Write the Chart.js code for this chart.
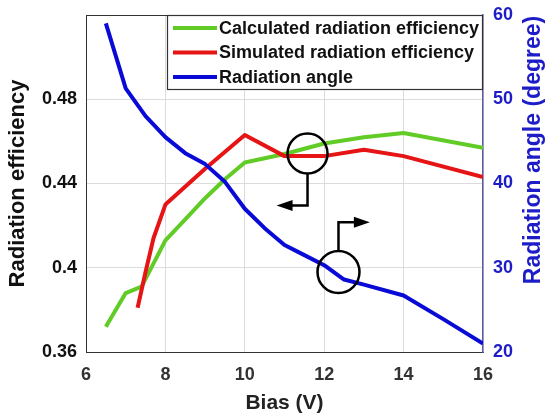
<!DOCTYPE html>
<html>
<head>
<meta charset="utf-8">
<script src="https://cdn.jsdelivr.net/npm/chart.js@4.4.1/dist/chart.umd.min.js"></script>
<style>
  html, body { margin: 0; padding: 0; background: #fff; }
  #wrap { width: 552px; height: 415px; }
</style>
</head>
<body>
<div id="wrap"><canvas id="chart" width="552" height="415"></canvas></div>
<script>
// Calculated radiation efficiency (left axis)
const calcBias = [6.5, 7, 7.4, 8, 8.5, 9, 9.5, 10, 11, 12, 13, 14, 16];
const calcEff = [0.372, 0.388, 0.391, 0.413, 0.423, 0.433, 0.442, 0.450, 0.454, 0.459, 0.462, 0.464, 0.457];

// Simulated radiation efficiency (left axis)
const simBias = [7.3, 7.5, 7.7, 8, 9, 10, 11, 12, 13, 14, 16];
const simEff = [0.381, 0.398, 0.414, 0.430, 0.447, 0.463, 0.453, 0.453, 0.456, 0.453, 0.443];

// Radiation angle (right axis, degree)
const angleBias = [6.5, 7, 7.5, 8, 8.5, 9, 9.5, 10, 10.5, 11, 11.5, 12, 12.5, 13, 14, 15, 16];
const angleDeg = [59.0, 51.3, 48.0, 45.5, 43.6, 42.3, 40.2, 37.0, 34.7, 32.7, 31.5, 30.3, 28.6, 28.0, 26.7, 23.9, 21.0];

const xTicks = [6, 8, 10, 12, 14, 16];
const effTicks = [0.36, 0.40, 0.44, 0.48];
const angleTicks = [20, 30, 40, 50, 60];

const colors = {
  calc: '#62cc26',
  sim: '#e61414',
  angle: '#0a0ad6',
  axisBlue: '#1c1cc8'
};

const FONT = 'Liberation Sans, Arial, sans-serif';

const pts = (xs, ys) => xs.map((x, i) => ({ x: x, y: ys[i] }));

// legend box, callouts, top frame, right axis title (reads bottom-up)
const overlay = {
  id: 'overlay',
  afterDraw(chart) {
    const { ctx, chartArea: a, scales } = chart;
    const x = scales.x, y = scales.y, y2 = scales.y2;
    ctx.save();

    // top frame
    ctx.strokeStyle = '#333';
    ctx.lineWidth = 1;
    ctx.beginPath();
    ctx.moveTo(a.left, a.top + 0.5);
    ctx.lineTo(a.right, a.top + 0.5);
    ctx.stroke();

    // callout 1: points to left axis
    ctx.strokeStyle = '#000';
    ctx.fillStyle = '#000';
    ctx.lineWidth = 2.5;
    let cx = x.getPixelForValue(11.58), cy = y.getPixelForValue(0.4542);
    ctx.beginPath();
    ctx.arc(cx, cy, 20, 0, Math.PI * 2);
    ctx.stroke();
    let ey = y.getPixelForValue(0.4296), ex = x.getPixelForValue(10.8);
    ctx.beginPath();
    ctx.moveTo(cx, cy + 20);
    ctx.lineTo(cx, ey);
    ctx.lineTo(ex + 14, ey);
    ctx.stroke();
    ctx.beginPath();
    ctx.moveTo(ex, ey);
    ctx.lineTo(ex + 16, ey - 5.5);
    ctx.lineTo(ex + 16, ey + 5.5);
    ctx.closePath();
    ctx.fill();

    // callout 2: points to right axis
    cx = x.getPixelForValue(12.36); cy = y2.getPixelForValue(29.5);
    ctx.beginPath();
    ctx.arc(cx, cy, 21, 0, Math.PI * 2);
    ctx.stroke();
    ey = y2.getPixelForValue(35.4); ex = x.getPixelForValue(13.15);
    ctx.beginPath();
    ctx.moveTo(cx, cy - 21);
    ctx.lineTo(cx, ey);
    ctx.lineTo(ex - 14, ey);
    ctx.stroke();
    ctx.beginPath();
    ctx.moveTo(ex, ey);
    ctx.lineTo(ex - 16, ey - 5.5);
    ctx.lineTo(ex - 16, ey + 5.5);
    ctx.closePath();
    ctx.fill();

    // legend
    const lw = 316, lh = 75;
    const lx = a.right - lw, ly = a.top;
    ctx.fillStyle = '#fff';
    ctx.fillRect(lx, ly, lw, lh);
    ctx.strokeStyle = '#333';
    ctx.lineWidth = 1.2;
    ctx.strokeRect(lx + 0.5, ly + 0.5, lw - 1, lh - 1);
    ctx.font = 'bold 18px ' + FONT;
    ctx.textBaseline = 'middle';
    ctx.textAlign = 'left';
    [0, 1, 2].forEach(i => {
      const ds = chart.data.datasets[i];
      const ry = ly + 13 + i * 24.5;
      ctx.strokeStyle = ds.borderColor;
      ctx.lineWidth = 4;
      ctx.beginPath();
      ctx.moveTo(lx + 6, ry);
      ctx.lineTo(lx + 50, ry);
      ctx.stroke();
      ctx.fillStyle = '#111';
      ctx.fillText(ds.label, lx + 52, ry + 1);
    });

    // right axis title
    ctx.translate(534, 150);
    ctx.rotate(-Math.PI / 2);
    ctx.font = 'bold 23px ' + FONT;
    ctx.textAlign = 'center';
    ctx.fillStyle = colors.axisBlue;
    ctx.fillText('Radiation angle (degree)', 0, 0);
    ctx.restore();
  }
};

const noPad = s => { s.paddingTop = 0; s.paddingBottom = 0; s.paddingLeft = 0; s.paddingRight = 0; };

new Chart(document.getElementById('chart'), {
  type: 'line',
  data: {
    datasets: [
      {
        label: 'Calculated radiation efficiency',
        data: pts(calcBias, calcEff),
        borderColor: colors.calc,
        yAxisID: 'y',
        order: 2
      },
      {
        label: 'Simulated radiation efficiency',
        data: pts(simBias, simEff),
        borderColor: colors.sim,
        yAxisID: 'y',
        order: 1
      },
      {
        label: 'Radiation angle',
        data: pts(angleBias, angleDeg),
        borderColor: colors.angle,
        yAxisID: 'y2',
        order: 0
      }
    ]
  },
  options: {
    responsive: false,
    animation: false,
    layout: { padding: { top: 15, bottom: 0, left: 0, right: 0 } },
    elements: {
      line: { borderWidth: 4, tension: 0, borderJoinStyle: 'round', borderCapStyle: 'butt' },
      point: { radius: 0 }
    },
    plugins: {
      legend: { display: false },
      tooltip: { enabled: false }
    },
    scales: {
      x: {
        type: 'linear',
        min: 6,
        max: 16,
        afterBuildTicks: s => { s.ticks = xTicks.map(v => ({ value: v })); },
        afterFit: s => { s.height = 63; noPad(s); },
        grid: { color: '#dcdcdc', drawTicks: false },
        border: { color: '#333', width: 1 },
        ticks: {
          padding: 12,
          color: '#333',
          font: { family: FONT, size: 18, weight: 'bold' }
        },
        title: {
          display: true,
          text: 'Bias (V)',
          color: '#222',
          padding: { top: 0, bottom: 0 },
          font: { family: FONT, size: 21, weight: 'bold', lineHeight: 1.1 }
        }
      },
      y: {
        position: 'left',
        min: 0.36,
        max: 0.52,
        afterBuildTicks: s => { s.ticks = effTicks.map(v => ({ value: v })); },
        afterFit: s => { s.width = 86; noPad(s); },
        grid: { color: '#dcdcdc', drawTicks: false },
        border: { color: '#333', width: 1 },
        ticks: {
          padding: 9,
          color: '#111',
          font: { family: FONT, size: 18, weight: 'bold' },
          callback: v => String(parseFloat(v.toFixed(2)))
        },
        title: {
          display: true,
          text: 'Radiation efficiency',
          color: '#111',
          padding: { top: 5, bottom: 0 },
          font: { family: FONT, size: 22, weight: 'bold', lineHeight: 1.2 }
        }
      },
      y2: {
        position: 'right',
        min: 20,
        max: 60,
        afterBuildTicks: s => { s.ticks = angleTicks.map(v => ({ value: v })); },
        afterFit: s => { s.width = 69; noPad(s); },
        grid: { display: false, drawTicks: false },
        border: { color: '#5a5aa8', width: 1.5 },
        ticks: {
          padding: 10,
          color: colors.axisBlue,
          font: { family: FONT, size: 18, weight: 'bold' }
        },
        title: { display: false }
      }
    }
  },
  plugins: [overlay]
});
</script>
</body>
</html>
